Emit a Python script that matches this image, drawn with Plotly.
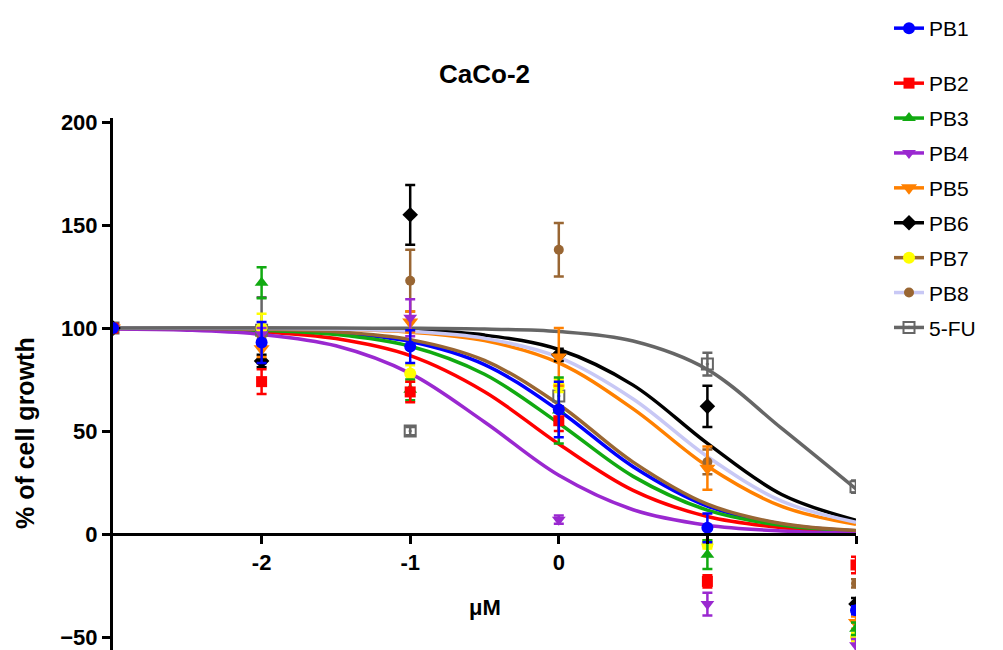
import plotly.graph_objects as go

# ---------------- data ----------------
names = ["PB1", "PB2", "PB3", "PB4", "PB5", "PB6", "PB7", "PB8", "5-FU"]
x_points = [-3, -2, -1, 0, 1, 2]

pb1 = [100, 93, 91, 60.5, 3, -37]
pb2 = [100, 74, 69, 55, -23, -15]
pb3 = [100, 122, 70, 60, -10, -46]
pb4 = [100, 97, 105, 7, -34, -54]
pb5 = [100, 90, 103, 86, 32, -43]
pb6 = [100, 84, 155, 87, 62, -34]
pb7 = [100, 100, 78, 72, -5, -50]
pb8 = [100, 96, 123, 138, 35, -24]
fu5 = [100, 99, 50, 67, 82.5, 23]

pb1_err = [0, 10, 8, 13.5, 7, 2]
pb2_err = [0, 6, 5, 5, 3, 4]
pb3_err = [0, 7.5, 5, 16, 7, 3]
pb4_err = [0, 3, 9, 2, 5.5, 3]
pb5_err = [0, 4, 5, 14, 10.5, 3]
pb6_err = [0, 3, 14.5, 3, 10, 3]
pb7_err = [0, 7, 4, 3, 2, 2]
pb8_err = [0, 4, 15, 13, 6, 2]
fu5_err = [0, 16, 2, 5, 5.5, 3]

# fitted curves
x_curve = [-3, -2.5, -2, -1.5, -1, -0.5, 0, 0.5, 1, 1.5, 2]
pb1_curve = [99.9, 99.8, 99.3, 97.8, 93.5, 82.3, 60.0, 32.7, 13.6, 4.8, 1.6]
pb2_curve = [99.8, 99.4, 98.2, 94.9, 86.6, 69.1, 43.7, 21.2, 8.5, 3.1, 1.1]
pb3_curve = [99.9, 99.6, 98.9, 96.9, 91.2, 77.6, 53.8, 28.0, 11.6, 4.2, 1.5]
pb4_curve = [99.6, 99.0, 96.9, 91.4, 78.0, 54.4, 28.5, 11.8, 4.3, 1.5, 0.5]
pb5_curve = [100.0, 99.9, 99.8, 99.4, 98.0, 93.9, 83.1, 60.8, 32.9, 13.4, 4.7]
pb6_curve = [100.0, 100.0, 99.9, 99.7, 98.9, 96.6, 89.6, 72.3, 44.0, 19.2, 6.7]
pb7_curve = [99.9, 99.8, 99.4, 98.2, 94.4, 84.3, 62.9, 34.9, 14.5, 5.1, 1.7]
pb8_curve = [100.0, 99.9, 99.8, 99.5, 98.4, 95.0, 85.8, 65.6, 37.6, 16.0, 5.7]
fu5_curve = [100.0, 100.0, 100.0, 100.0, 99.9, 99.5, 98.3, 93.7, 79.9, 51.3, 21.9]

y_ticks = [-50, 0, 50, 100, 150, 200]
x_ticks = [-2, -1, 0, 1, 2]
x_ticktext = ["-2", "-1", "0", "", ""]

# ---------------- styles ----------------
values = [pb1, pb2, pb3, pb4, pb5, pb6, pb7, pb8, fu5]
errors = [pb1_err, pb2_err, pb3_err, pb4_err, pb5_err, pb6_err, pb7_err, pb8_err, fu5_err]
curves = [pb1_curve, pb2_curve, pb3_curve, pb4_curve, pb5_curve, pb6_curve, pb7_curve, pb8_curve, fu5_curve]
line_colors = ["#0000FF", "#FF0000", "#11AA11", "#9A28D0", "#FF8000", "#000000", "#996633", "#C8C8F5", "#666666"]
marker_colors = ["#0000FF", "#FF0000", "#11AA11", "#9A28D0", "#FF8000", "#000000", "#FFFF00", "#996633", "#666666"]
symbols = ["circle", "square", "triangle-up", "triangle-down", "triangle-down", "diamond", "circle", "circle", "square-open-dot"]
sizes = [12, 11, 12, 12, 14, 12, 12, 10, 11]

FONT = "Liberation Sans, Arial, sans-serif"
fig = go.Figure()

for i in range(len(names)):
    fig.add_trace(go.Scatter(
        x=x_curve, y=curves[i], mode="lines", line=dict(color=line_colors[i], width=3.5, shape="spline"),
        showlegend=False, hoverinfo="skip"))

for i in reversed(range(len(names))):
    fig.add_trace(go.Scatter(
        x=x_points, y=values[i], mode="markers",
        marker=dict(symbol=symbols[i], color=marker_colors[i], size=sizes[i],
                    line=dict(color=marker_colors[i], width=2 if symbols[i].endswith("dot") else 0)),
        error_y=dict(type="data", array=errors[i], color=marker_colors[i], thickness=2.5, width=5),
        showlegend=False))

for i in range(len(names)):
    fig.add_trace(go.Scatter(
        x=[None], y=[None], mode="lines+markers", name=names[i],
        line=dict(color=line_colors[i], width=3.5),
        marker=dict(symbol=symbols[i], color=marker_colors[i], size=sizes[i],
                    line=dict(color=marker_colors[i], width=2 if symbols[i].endswith("dot") else 0)),
        legend="legend" if i == 0 else "legend2",
        legendgroup=names[i]))

y_range = [-56.3, 202]
x_axis_pos = (0 - y_range[0]) / (y_range[1] - y_range[0])

# the page is shown with an 8 px body margin: positions below compensate for it
W, H = 1003, 650
L, T, PW, PH = 105, 110, 743, 532

fig.update_layout(
    width=W, height=H,
    margin=dict(l=L, r=W - L - PW, t=T, b=H - T - PH),
    plot_bgcolor="white", paper_bgcolor="white",
    font=dict(family=FONT, color="black"),
    title=dict(text="<b>CaCo-2</b>", x=0.5, xref="paper", y=1 - 66 / H, yref="container",
               xanchor="center", yanchor="middle", font=dict(size=26, family=FONT, color="black")),
    xaxis=dict(range=[-3, 2], tickvals=x_ticks, ticktext=x_ticktext, showgrid=False, zeroline=False,
               showline=True, linecolor="black", linewidth=3, ticks="outside", ticklen=8, tickwidth=3,
               tickcolor="black", anchor="free", position=x_axis_pos,
               tickfont=dict(size=22, family=FONT, weight="bold", color="black")),
    yaxis=dict(range=y_range, tickvals=y_ticks, showgrid=False, zeroline=False,
               showline=True, linecolor="black", linewidth=3, ticks="outside", ticklen=8, tickwidth=3,
               tickcolor="black",
               tickfont=dict(size=22, family=FONT, weight="bold", color="black")),
    legend=dict(xref="container", yref="container", x=881 / W, y=1 - 0 / H, xanchor="left", yanchor="top",
                font=dict(size=21, family=FONT, color="black"), bgcolor="rgba(0,0,0,0)"),
    legend2=dict(xref="container", yref="container", x=881 / W, y=1 - 55 / H, xanchor="left", yanchor="top",
                 font=dict(size=21, family=FONT, color="black"), bgcolor="rgba(0,0,0,0)",
                 tracegroupgap=4.6),
)

fig.add_annotation(text="<b>μM</b>", x=0.5, xref="paper", y=(T + PH - 599) / PH, yref="paper",
                   xanchor="center", yanchor="middle",
                   showarrow=False, font=dict(size=22, family=FONT, color="black"))
fig.add_annotation(text="<b>% of cell growth</b>", x=(17 - L) / PW, xref="paper",
                   y=(T + PH - 425) / PH, yref="paper", textangle=-90, showarrow=False,
                   xanchor="center", yanchor="middle",
                   font=dict(size=25, family=FONT, color="black"))

fig.write_html("out.html")
